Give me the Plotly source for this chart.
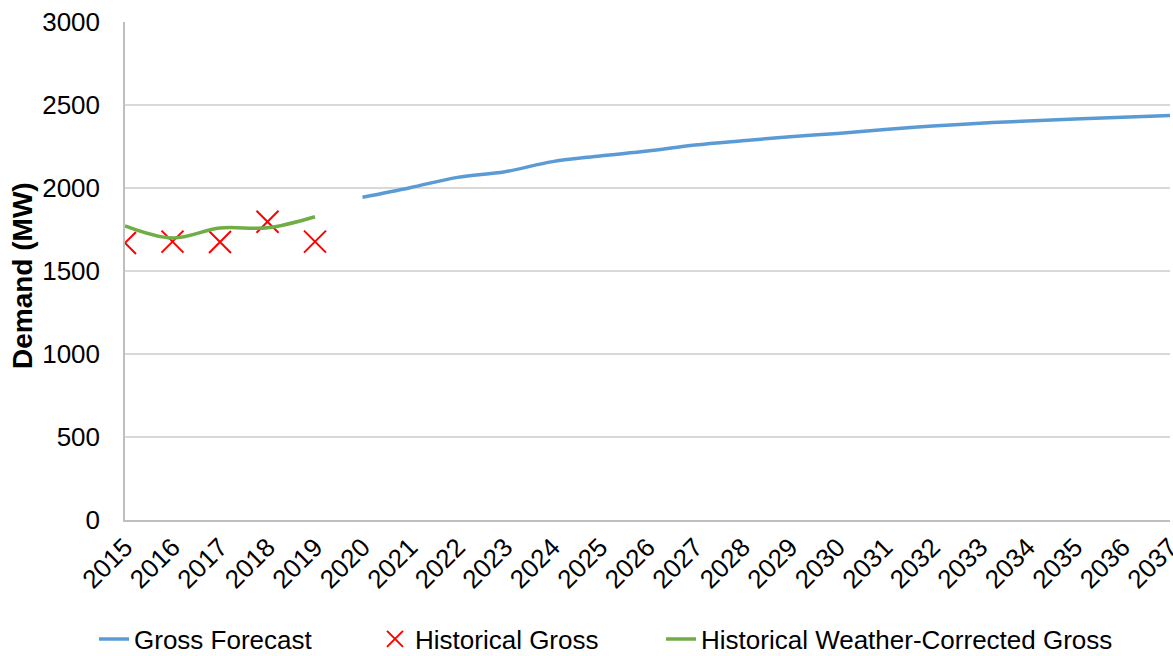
import plotly.graph_objects as go

years = [str(y) for y in range(2015, 2038)]
forecast_years = years[5:]
gross_forecast = [1944, 2002, 2064, 2098, 2159, 2193, 2223, 2259, 2285, 2309, 2329,
                  2353, 2373, 2390, 2404, 2416, 2426, 2436]
hist_years = years[:5]
historical_gross = [1669, 1677, 1675, 1797, 1677]
weather_corrected = [1772, 1699, 1759, 1760, 1827]

FONT = "Liberation Sans, Arial, sans-serif"
FS = 26

fig = go.Figure()
fig.add_trace(go.Scatter(x=forecast_years, y=gross_forecast, mode="lines",
                         name="Gross Forecast", legend="legend",
                         line=dict(color="#5B9BD5", width=3.5, shape="spline")))
fig.add_trace(go.Scatter(x=hist_years, y=historical_gross, mode="markers",
                         name="Historical Gross", legend="legend2",
                         marker=dict(symbol="x-thin", size=22, color="#FF0000",
                                     line=dict(color="#FF0000", width=2))))
fig.add_trace(go.Scatter(x=hist_years, y=weather_corrected, mode="lines",
                         name="Historical Weather-Corrected Gross", legend="legend3",
                         line=dict(color="#70AD47", width=3.5, shape="spline")))

leg_common = dict(orientation="h", xref="container", yref="container",
                  y=1 - 639 / 656, yanchor="middle", xanchor="left",
                  font=dict(size=FS, family=FONT, color="black"),
                  bgcolor="rgba(0,0,0,0)", borderwidth=0)

fig.update_layout(
    width=1173, height=656,
    margin=dict(l=125, r=3, t=22, b=136, autoexpand=False),
    paper_bgcolor="white", plot_bgcolor="white",
    font=dict(family=FONT, size=FS, color="black"),
    showlegend=True,
    legend=dict(x=(136 - 42) / 1173, **leg_common),
    legend2=dict(x=(417 - 42) / 1173, **leg_common),
    legend3=dict(x=(703 - 42) / 1173, **leg_common),
    xaxis=dict(type="category", categoryorder="array", categoryarray=years,
               range=[0, 22], tickangle=-45, showgrid=False, automargin=False,
               showline=True, linecolor="#BFBFBF", linewidth=1.5,
               ticks="", tickfont=dict(size=FS), fixedrange=True),
    yaxis=dict(range=[0, 3000], dtick=500, showgrid=True, gridcolor="#D9D9D9",
               gridwidth=1.5, showline=True, linecolor="#BFBFBF", linewidth=1.5,
               ticks="", tickfont=dict(size=FS), zeroline=False, automargin=False,
               ticklabelstandoff=18),
    annotations=[dict(text="<b>Demand (MW)</b>", textangle=-90, showarrow=False,
                      xref="paper", yref="paper",
                      x=(22 - 125) / 1045, y=(520 - 276) / 498,
                      xanchor="center", yanchor="middle",
                      font=dict(size=28, family=FONT, color="black"))],
)

fig.write_html("out.html", config={"displayModeBar": False},
               post_script="document.body.style.margin='0';document.body.style.overflow='hidden';")
